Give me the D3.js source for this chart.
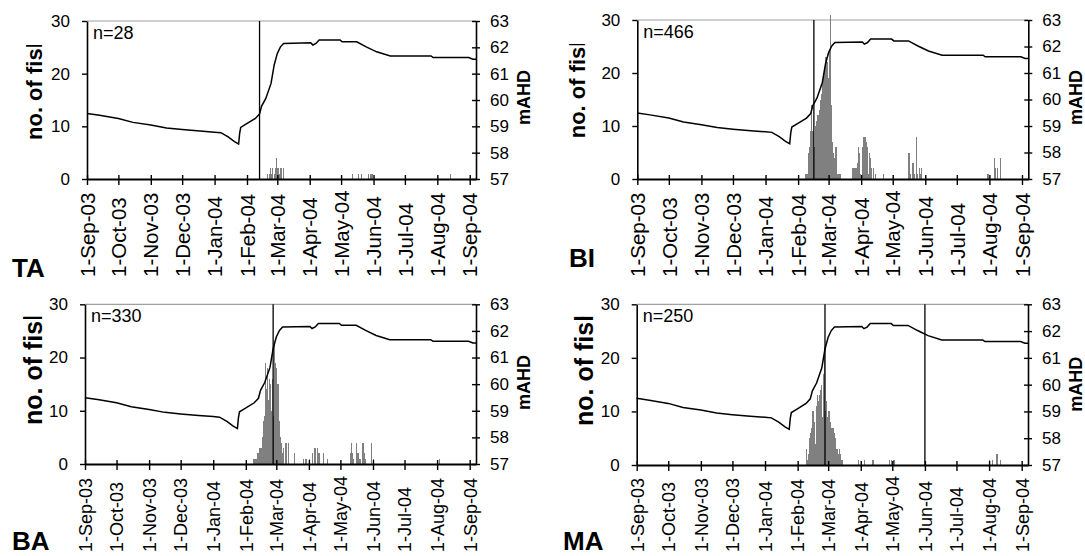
<!DOCTYPE html>
<html><head><meta charset="utf-8">
<script src="https://cdn.jsdelivr.net/npm/d3@7"></script>
<style>
body{margin:0;background:#fff;}
svg{display:block;font-family:"Liberation Sans",Arial,Helvetica,sans-serif;}
</style></head><body>
<svg id="chart" width="1085" height="556"></svg>
<script>
// ---------- data ----------
const monthTicks = ["2003-09-01","2003-10-01","2003-11-01","2003-12-01","2004-01-01","2004-02-01",
  "2004-03-01","2004-04-01","2004-05-01","2004-06-01","2004-07-01","2004-08-01","2004-09-01"];
const dateDomain = ["2003-09-01","2004-09-07"];
const fishTicks = [0,10,20,30];
const levelTicks = [57,58,59,60,61,62,63];

// water level (mAHD)
const levelDates = ["2003-09-01","2003-09-13","2003-10-01","2003-10-15","2003-11-01","2003-11-16",
  "2003-12-01","2003-12-18","2004-01-01","2004-01-07","2004-01-14","2004-01-20","2004-01-24",
  "2004-01-25","2004-01-26","2004-01-31","2004-02-09","2004-02-13","2004-02-15","2004-02-19",
  "2004-02-24","2004-02-27","2004-03-01","2004-03-04","2004-03-07","2004-04-02","2004-04-04",
  "2004-04-07","2004-04-10","2004-04-30","2004-05-02","2004-05-16","2004-05-25","2004-06-04",
  "2004-06-17","2004-07-26","2004-07-28","2004-08-31","2004-09-04","2004-09-07"];
const levelValues = [59.49,59.42,59.30,59.15,59.05,58.94,58.88,58.82,58.78,58.76,58.60,58.42,58.33,
  58.74,58.96,59.08,59.30,59.47,59.77,60.06,60.63,61.33,61.77,62.02,62.15,62.17,62.09,62.15,62.28,
  62.28,62.21,62.21,62.02,61.83,61.67,61.67,61.61,61.61,61.55,61.55];

// daily fish counts
const taDates = ["2004-02-20","2004-02-22","2004-02-23","2004-02-24","2004-02-25","2004-02-27","2004-02-28",
  "2004-02-29","2004-03-01","2004-03-02","2004-03-04","2004-03-06","2004-05-11","2004-05-17","2004-05-20",
  "2004-05-27","2004-05-29","2004-05-30","2004-08-13"];
const taCounts = [1,1,2,1,2,1,2,4,2,1,2,2,1,1,1,1,1,1,1];

const biDates = ["2004-02-08","2004-02-09","2004-02-10","2004-02-11","2004-02-12","2004-02-13","2004-02-14",
  "2004-02-15","2004-02-16","2004-02-17","2004-02-18","2004-02-19","2004-02-20","2004-02-21","2004-02-22",
  "2004-02-23","2004-02-24","2004-02-25","2004-02-26","2004-02-27","2004-02-28","2004-02-29","2004-03-01",
  "2004-03-02","2004-03-03","2004-03-04","2004-03-05","2004-03-06","2004-03-07","2004-03-08","2004-03-09",
  "2004-03-10","2004-03-11","2004-03-12",
  "2004-03-23","2004-03-24","2004-03-25","2004-03-26","2004-03-27","2004-03-28","2004-03-29","2004-03-30",
  "2004-03-31","2004-04-02","2004-04-03","2004-04-04","2004-04-05","2004-04-06","2004-04-07","2004-04-08",
  "2004-04-09","2004-04-10","2004-04-12","2004-04-14","2004-04-22",
  "2004-05-16","2004-05-17","2004-05-19","2004-05-20","2004-05-21","2004-05-23","2004-05-24","2004-05-26",
  "2004-05-27","2004-05-28",
  "2004-07-30","2004-08-05","2004-08-06","2004-08-08","2004-08-11"];
const biCounts = [1,1,5,6,9,14,9,9,6,10,11,12,12,13,15,16,18,20,21,23,22,19,24,31,14,7,5,4,6,6,1,1,1,1,
  2,2,2,2,2,3,6,5,1,6,8,8,7,6,1,5,4,2,2,1,1,
  5,1,3,3,1,8,1,2,1,2,
  1,4,2,2,4];

const baDates = ["2004-02-08","2004-02-09","2004-02-10","2004-02-11","2004-02-12","2004-02-13","2004-02-14",
  "2004-02-15","2004-02-16","2004-02-17","2004-02-18","2004-02-19","2004-02-20","2004-02-21","2004-02-22",
  "2004-02-23","2004-02-24","2004-02-25","2004-02-26","2004-02-27","2004-02-28","2004-02-29","2004-03-01",
  "2004-03-02","2004-03-03","2004-03-04","2004-03-05","2004-03-06","2004-03-07","2004-03-09","2004-03-10",
  "2004-03-12","2004-03-18",
  "2004-03-26","2004-03-28","2004-03-29","2004-04-01","2004-04-04","2004-04-06","2004-04-07","2004-04-09",
  "2004-04-10","2004-04-14","2004-04-18",
  "2004-05-10","2004-05-11","2004-05-12","2004-05-13","2004-05-16","2004-05-17","2004-05-18","2004-05-19",
  "2004-05-22","2004-05-23","2004-05-24","2004-05-30","2004-06-01","2004-08-03"];
const baCounts = [1,1,1,1,2,2,3,3,5,8,9,19,14,18,12,16,15,10,16,9,23,19,18,
  15,8,5,4,2,3,4,4,4,2,
  1,1,1,1,2,3,3,3,2,2,1,
  2,4,2,1,4,2,2,1,4,2,1,4,1,1];

const maDates = ["2004-02-09","2004-02-10","2004-02-11","2004-02-12","2004-02-13","2004-02-14","2004-02-15",
  "2004-02-16","2004-02-17","2004-02-18","2004-02-19","2004-02-20","2004-02-21","2004-02-22","2004-02-23",
  "2004-02-24","2004-02-25","2004-02-26","2004-02-27","2004-02-28","2004-02-29","2004-03-01","2004-03-02",
  "2004-03-03","2004-03-04","2004-03-05","2004-03-06","2004-03-07","2004-03-08","2004-03-09","2004-03-10",
  "2004-03-11","2004-03-12","2004-03-13","2004-03-14",
  "2004-03-29","2004-04-04","2004-04-12","2004-04-28","2004-04-30","2004-05-02",
  "2004-08-01","2004-08-04","2004-08-08","2004-08-11"];
const maCounts = [3,1,2,5,6,7,10,8,4,11,13,12,13,14,15,9,17,22,10,12,9,10,10,
  8,7,7,6,5,3,3,2,3,2,1,1,
  1,1,1,1,1,1,
  1,1,2,1];

const panelNames = ["TA","BI","BA","MA"];
const panelN = [28,466,330,250];
const markerDates = [["2004-02-13"],["2004-02-16"],["2004-02-27"],["2004-02-27","2004-06-01"]];
const panelDates = [taDates,biDates,baDates,maDates];
const panelCounts = [taCounts,biCounts,baCounts,maCounts];

// ---------- layout ----------
const layout = [
  {x0:87, x1:476, y0:21, y1:179, titleX:41.7, titleBottom:140, titleClip:45, titleSize:22,
   mX:530, mBottom:125, labelBottom:277, labelSize:20.5, nameX:12, nameY:277},
  {x0:637.3, x1:1028.3, y0:20, y1:179, titleX:585, titleBottom:138.3, titleClip:44, titleSize:22,
   mX:1081.7, mBottom:125, labelBottom:277, labelSize:20.5, nameX:569, nameY:267},
  {x0:85, x1:476, y0:304.3, y1:464, titleX:41.7, titleBottom:425, titleClip:316.7, titleSize:25,
   mX:530, mBottom:410, labelBottom:552, labelSize:18, nameX:12, nameY:550},
  {x0:636.7, x1:1028, y0:304.3, y1:465, titleX:593.3, titleBottom:426, titleClip:316.7, titleSize:25,
   mX:1081.7, mBottom:411.7, labelBottom:552, labelSize:18, nameX:563, nameY:550}
];

const parse = d3.timeParse("%Y-%m-%d");
const fmt = d3.timeFormat("%-d-%b-%y");
const svg = d3.select("#chart");
const defs = svg.append("defs");
const levelData = levelDates.map((d,i)=>({date:parse(d), v:levelValues[i]}));
const FONT = "Liberation Sans, Arial, sans-serif";

layout.forEach((L, p) => {
  const g = svg.append("g");
  const x = d3.scaleTime().domain(dateDomain.map(parse)).range([L.x0, L.x1]);
  const yL = d3.scaleLinear().domain([0,30]).range([L.y1, L.y0]);
  const yR = d3.scaleLinear().domain([57,63]).range([L.y1, L.y0]);

  // top border
  g.append("line").attr("x1",L.x0).attr("x2",L.x1).attr("y1",L.y0).attr("y2",L.y0)
    .attr("stroke","#a0a0a0").attr("stroke-width",1.2);

  // bars
  const bars = panelDates[p].map((d,i)=>({date:parse(d), c:panelCounts[p][i]}));
  g.append("g").attr("shape-rendering","crispEdges").selectAll("rect").data(bars).join("rect")
    .attr("x", d => x(d.date))
    .attr("width", d => Math.max(1.2, x(d3.timeDay.offset(d.date,1)) - x(d.date)))
    .attr("y", d => yL(d.c))
    .attr("height", d => yL(0) - yL(d.c))
    .attr("fill", "#808080");

  // water level line
  g.append("path").datum(levelData)
    .attr("d", d3.line().x(d=>x(d.date)).y(d=>yR(d.v)))
    .attr("fill","none").attr("stroke","#000").attr("stroke-width",1.5);

  // marker lines
  g.selectAll(".mk").data(markerDates[p].map(parse)).join("line")
    .attr("x1", d=>x(d)).attr("x2", d=>x(d)).attr("y1", L.y0).attr("y2", L.y1)
    .attr("stroke","#000").attr("stroke-width",1.3);

  // left axis
  const la = g.append("g").attr("transform",`translate(${L.x0},0)`)
    .call(d3.axisLeft(yL).tickValues(fishTicks).tickFormat(d3.format("d"))
      .tickSizeInner(5).tickSizeOuter(0).tickPadding(12));
  la.select(".domain").attr("stroke","#000").attr("stroke-width",1.6);
  la.selectAll(".tick line").attr("stroke-width",1.4);
  la.selectAll("text").attr("font-size",17).attr("fill","#000").attr("font-family",FONT);

  // right axis
  const ra = g.append("g").attr("transform",`translate(${L.x1},0)`)
    .call(d3.axisRight(yR).tickValues(levelTicks).tickFormat(d3.format("d"))
      .tickSizeInner(4).tickSizeOuter(0).tickPadding(10));
  ra.select(".domain").attr("stroke","#000").attr("stroke-width",1.6);
  ra.selectAll(".tick line").attr("x1",-4).attr("stroke-width",1.4);
  ra.selectAll("text").attr("font-size",17).attr("fill","#000").attr("font-family",FONT);

  // bottom axis
  const ba = g.append("g").attr("transform",`translate(0,${L.y1})`)
    .call(d3.axisBottom(x).tickValues(monthTicks.map(parse)).tickFormat(fmt).tickSizeInner(6).tickSizeOuter(0));
  ba.select(".domain").attr("stroke","#000").attr("stroke-width",2.2);
  ba.selectAll(".tick line").attr("y1",-4).attr("stroke-width",1.4);
  ba.selectAll("text")
    .attr("x",0).attr("y",0).attr("dy","0.35em")
    .attr("text-anchor","start")
    .attr("transform",`translate(0,${L.labelBottom - L.y1}) rotate(-90)`)
    .attr("font-size",L.labelSize).attr("fill","#000").attr("font-family",FONT);

  // n label
  g.append("text").attr("x",L.x0+6).attr("y",L.y0+18).attr("font-size",18).text("n=" + panelN[p]);

  // y title (clipped, as in the original)
  const cid = "clip"+p;
  defs.append("clipPath").attr("id",cid).append("rect")
    .attr("x",L.titleX-40).attr("y",L.titleClip).attr("width",60).attr("height",L.titleBottom - L.titleClip + 10);
  g.append("g").attr("clip-path",`url(#${cid})`).append("text")
    .attr("transform",`translate(${L.titleX},${L.titleBottom}) rotate(-90)`)
    .attr("font-size",L.titleSize).attr("font-weight","bold").text("no. of fish");

  // right title
  g.append("text")
    .attr("transform",`translate(${L.mX},${L.mBottom}) rotate(-90)`)
    .attr("font-size",18).attr("font-weight","bold").text("mAHD");

  // panel name
  g.append("text").attr("x",L.nameX).attr("y",L.nameY)
    .attr("font-size",26).attr("font-weight","bold").text(panelNames[p]);
});
</script>
</body></html>
